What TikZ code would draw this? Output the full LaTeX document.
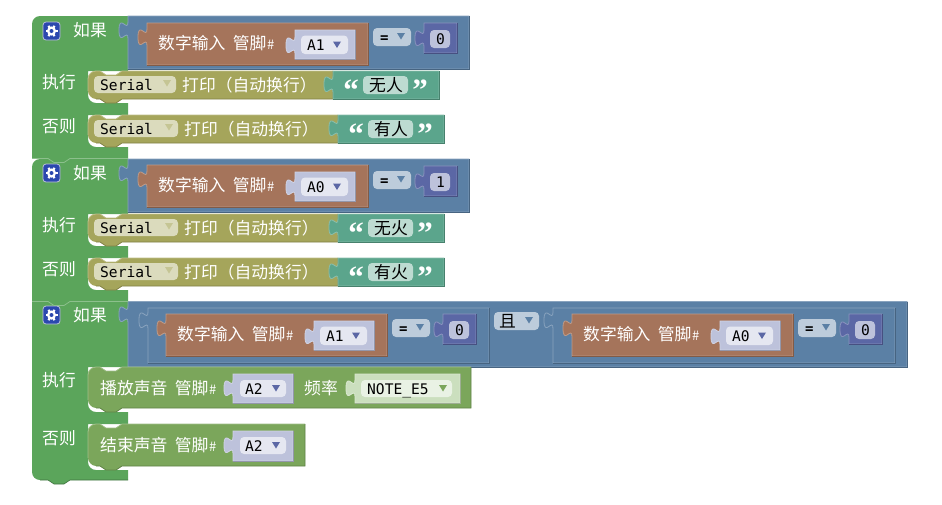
\documentclass[tikz,border=0pt]{standalone}
\usepackage{fontspec}
\setmainfont{Noto Sans CJK SC}
\newfontfamily\monf{DejaVu Sans Mono}
\newfontfamily\quotef{Liberation Serif}
\definecolor{cGreen}{HTML}{5BA55B}
\definecolor{cBlue}{HTML}{5B80A5}
\definecolor{cOlive}{HTML}{A5A55B}
\definecolor{cBrown}{HTML}{A5745B}
\definecolor{cPin}{HTML}{BDC2DB}
\definecolor{cPinF}{HTML}{E5E7F1}
\definecolor{cNum}{HTML}{5B67A5}
\definecolor{cStr}{HTML}{5BA58C}
\definecolor{cStrF}{HTML}{BDDBD1}
\definecolor{cLeaf}{HTML}{7BA65B}
\definecolor{cNote}{HTML}{CBDFBE}
\definecolor{cNoteF}{HTML}{E9F2E4}
\definecolor{cDrop}{HTML}{BDCCDB}
\definecolor{cSer}{HTML}{DBDBBD}
\definecolor{cGear}{HTML}{2B48AE}
\newcount\nn
\newcommand{\pzpath}[5]{(#1,#2) -- (#3,#2) -- (#3,#4) -- (#1,#4) -- (#1,#5+16.5)
  .. controls (#1,#5+5.5) and (#1-9,#5+25.5) .. (#1-9,#5+8.25)
  .. controls (#1-9,#5-9) and (#1,#5+11) .. (#1,#5) -- cycle}
\newcommand{\pz}[6]{%
  \fill[#1] \pzpath{#2}{#3}{#4}{#5}{#6};
  \draw[#1!72!white,line width=.8pt] \pzpath{#2}{#3}{#4}{#5}{#6};
  \draw[#1!78!black,line width=.8pt] (#4,#3) -- (#4,#5) -- (#2,#5);}
\newcommand{\stmt}[4]{% colour, x2, y1, y2
  \fill[#1] (96,#3) -- (100,#3) -- (106,#3+4) -- (116,#3+4) -- (122,#3) -- (#2,#3) -- (#2,#4)
    -- (122,#4) -- (116,#4+4) -- (106,#4+4) -- (100,#4) -- (96,#4)
    .. controls (91.6,#4) and (88,#4-4.4) .. (88,#4-8) -- (88,#3+8)
    .. controls (88,#3+3.6) and (91.6,#3) .. (96,#3) -- cycle;
  \draw[#1!72!white,line width=.8pt] (88,#4-8) -- (88,#3+8)
    .. controls (88,#3+3.6) and (91.6,#3) .. (96,#3) -- (100,#3) -- (106,#3+4) -- (116,#3+4) -- (122,#3) -- (#2,#3);
  \draw[#1!78!black,line width=.8pt] (#2,#3) -- (#2,#4) -- (122,#4) -- (116,#4+4) -- (106,#4+4) -- (100,#4) -- (96,#4);}
\newcommand{\fld}[5]{\fill[#1,rounded corners=4pt] (#2,#3) rectangle (#4,#5);}
\newcommand{\arr}[3]{\fill[#1] (#2-4,#3-3) -- (#2+4,#3-3) -- (#2,#3+3.5) -- cycle;}
\newcommand{\txt}[4]{\global\advance\nn by 1
  \node[anchor=base west,inner sep=0pt,text=#3,font=\fontsize{16.8}{16.8}\selectfont] (zh\the\nn) at (#1,#2) {#4};}
\newcommand{\mono}[3]{\global\advance\nn by 1
  \node[anchor=base west,inner sep=0pt,text=black,font=\monf\fontsize{14.6}{14.6}\selectfont] (mo\the\nn) at (#1,#2) {#3};}
\newcommand{\quo}[3]{\global\advance\nn by 1
  \node[anchor=base,inner sep=0pt,text=white,font=\quotef\bfseries\fontsize{31}{31}\selectfont] (qu\the\nn) at (#1,#2) {#3};}
\newcommand{\gl}{\hspace{7.5pt}管脚\hspace{.5pt}{\fontsize{13}{13}\selectfont\#}}
\newcommand{\gearicon}[2]{%
  \fill[cGear,draw=cPin,line width=.8pt,rounded corners=3pt] (#1-8.5,#2-9) rectangle (#1+8.5,#2+9);
  \foreach \a in {0,60,...,300}{\draw[white,line width=2.2pt] (#1,#2) -- ++(\a:6pt);}
  \fill[white] (#1,#2) circle (4.6pt);
  \fill[cGear] (#1,#2) circle (2pt);}
\newcommand{\dread}[3]{% x1 of brown, y1, name
  \pz{cBrown}{#1}{#2}{#1+221}{#2+42}{#2+6}
  \txt{#1+11}{#2+26}{white}{数字输入\gl}
  \pz{cPin}{#1+148}{#2+7}{#1+208}{#2+36}{#2+14}
  \fld{cPinF}{#1+154}{#2+12.5}{#1+201}{#2+31}
  \mono{#1+160}{#2+27}{#3}
  \arr{cNum}{#1+190}{#2+21.5}}
\newcommand{\eqnum}[3]{% x of eq dropdown, y of dropdown, digit
  \fld{cDrop}{#1}{#2}{#1+38}{#2+18}
  \node[anchor=base west,inner sep=0pt,font=\monf\bfseries\fontsize{14}{14}\selectfont] (eq\the\nn) at (#1+7,#2+14) {=};
  \arr{cBlue}{#1+28}{#2+8}
  \pz{cNum}{#1+51}{#2-5}{#1+84}{#2+25}{#2+2}
  \fld{cPin}{#1+57}{#2+2}{#1+77}{#2+20}
  \mono{#1+63}{#2+16}{#3}}
\newcommand{\serrow}[4]{% y1, x split, dropdown right, text
  \stmt{cOlive}{#2}{#1}{#1+28}
  \fld{cSer}{94}{#1+5}{#3}{#1+22}
  \mono{100}{#1+19.5}{Serial}
  \arr{cOlive!65!white}{#3-9}{#1+12}
  \txt{#3+6}{#1+20.5}{white}{打印（自动换行）}
  \pz{cStr}{#2}{#1}{#2+106}{#1+28}{#1+5}
  \quo{#2+18}{#1+29}{“}
  \fld{cStrF}{#2+30}{#1+5}{#2+75}{#1+23}
  \txt{#2+36}{#1+20}{black}{#4}
  \quo{#2+87}{#1+29}{”}}
\newcommand{\greenA}[1]{% block with two plain rows, top y
  \fill[cGreen] (40,#1) -- (128,#1) -- (128,#1+55) -- (88,#1+55) -- (88,#1+79)
    .. controls (88,#1+83.4) and (91.6,#1+87) .. (96,#1+87) -- (128,#1+87) -- (128,#1+99) -- (88,#1+99) -- (88,#1+123)
    .. controls (88,#1+127.4) and (91.6,#1+131) .. (96,#1+131) -- (128,#1+131) -- (128,#1+142.5)
    -- (70,#1+142.5) -- (64,#1+146.5) -- (54,#1+146.5) -- (48,#1+142.5) -- (32,#1+142.5)
    -- (32,#1+8) .. controls (32,#1+3.6) and (35.6,#1) .. (40,#1) -- cycle;
  \draw[cGreen!70!white,line width=.8pt] (128,#1+142.5) -- (70,#1+142.5) -- (64,#1+146.5) -- (54,#1+146.5) -- (48,#1+142.5) -- (32,#1+142.5);}
\begin{document}
\begin{tikzpicture}[x=1pt,y=-1pt]
\useasboundingbox (0,0) rectangle (942,504);
\fill[white] (0,0) rectangle (942,504);
% ---------- third block
\fill[cGreen] (32,301.5) -- (128,301.5) -- (128,367) -- (88,367) -- (88,404)
  .. controls (88,408.4) and (91.6,412) .. (96,412) -- (128,412) -- (128,424) -- (88,424) -- (88,462)
  .. controls (88,466.4) and (91.6,470) .. (96,470) -- (128,470) -- (128,480) -- (70,480) -- (64,484) -- (54,484) -- (48,480) -- (40,480)
  .. controls (35.6,480) and (32,476.4) .. (32,472) -- cycle;
\draw[cGreen!70!black,line width=.6pt] (128,480) -- (70,480) -- (64,484) -- (54,484) -- (48,480) -- (40,480);
\gearicon{51.5}{315}
\txt{73}{321}{white}{如果}
\txt{42}{386}{white}{执行}
\txt{42}{444}{white}{否则}
\pz{cBlue}{128}{301.5}{907}{367}{306}
\pz{cBlue}{148}{308}{489}{363}{312}
\dread{166}{314}{A1}
\eqnum{392}{319}{0}
\fld{cDrop}{494}{312}{539}{330}
\txt{499}{327}{black}{且}
\arr{cBlue}{529}{320}
\pz{cBlue}{553}{308}{895}{363}{312}
\dread{572}{314}{A0}
\eqnum{798}{319}{0}
% row: tone
\stmt{cLeaf}{471}{367}{408}
\txt{100}{394}{white}{播放声音\gl}
\pz{cPin}{233}{374}{293}{403}{380}
\fld{cPinF}{240}{380}{286}{397}
\mono{245}{394}{A2}
\arr{cNum}{276}{388}
\txt{304}{394}{white}{频率}
\pz{cNote}{355}{374}{460}{403}{380}
\fld{cNoteF}{361}{380}{452}{397}
\mono{367}{394}{NOTE\_E5}
\arr{cLeaf}{443}{388}
% row: notone
\stmt{cLeaf}{305}{424}{466}
\txt{100}{451}{white}{结束声音\gl}
\pz{cPin}{233}{431}{293}{461}{437}
\fld{cPinF}{240}{437}{286}{454}
\mono{245}{451}{A2}
\arr{cNum}{276}{445}
% ---------- second block
\greenA{159}
\gearicon{51.5}{173}
\txt{73}{179}{white}{如果}
\txt{42}{231}{white}{执行}
\txt{42}{275}{white}{否则}
\pz{cBlue}{128}{159}{469}{212}{165}
\dread{147}{165}{A0}
\eqnum{373}{171}{1}
\serrow{214}{338}{178}{无火}
\serrow{258}{338}{178}{有火}
% ---------- first block
\greenA{16}
\gearicon{51.5}{31}
\txt{73}{36}{white}{如果}
\txt{42}{88}{white}{执行}
\txt{42}{132}{white}{否则}
\pz{cBlue}{128}{16}{469}{69}{22}
\dread{147}{23}{A1}
\eqnum{373}{28}{0}
\serrow{71}{333}{176}{无人}
\serrow{115}{338}{178}{有人}
\end{tikzpicture}
\end{document}
